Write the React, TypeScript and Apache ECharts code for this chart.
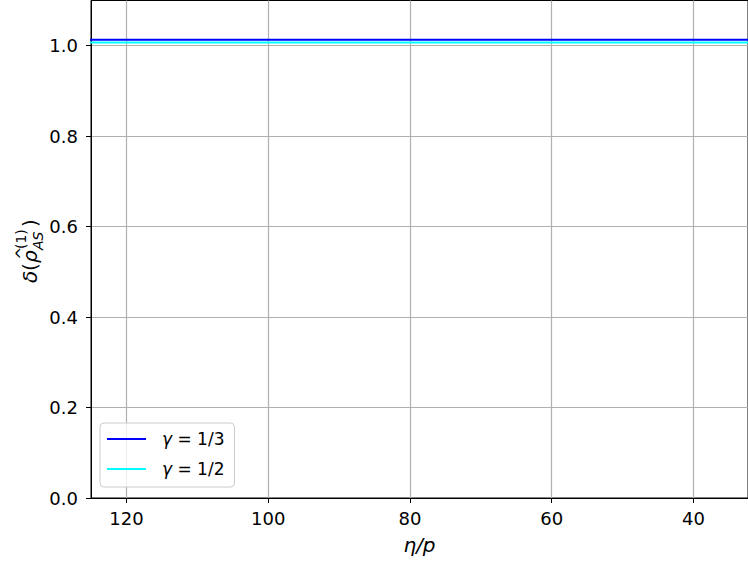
import React, { useEffect, useRef } from "react";
import * as echarts from "echarts";

const etaOverP: number[] = [30, 40, 50, 60, 70, 80, 90, 100, 110, 120, 130];
const deltaGammaThird: number[] = [1.013, 1.013, 1.013, 1.013, 1.013, 1.013, 1.013, 1.013, 1.013, 1.013, 1.013];
const deltaGammaHalf: number[] = [1.007, 1.007, 1.007, 1.007, 1.007, 1.007, 1.007, 1.007, 1.007, 1.007, 1.007];
const seriesNames: string[] = ["γ = 1/3", "γ = 1/2"];
const xTicks: number[] = [120, 100, 80, 60, 40];
const yTicks: number[] = [0, 0.2, 0.4, 0.6, 0.8, 1.0];

const FONT = "DejaVu Sans";

export default function App() {
  const ref = useRef<HTMLDivElement>(null);
  useEffect(() => {
    if (!ref.current) return;
    const chart = echarts.init(ref.current, null, { renderer: "svg" });
    const pairs = (ys: number[]) => etaOverP.map((x, i) => [x, ys[i]]);
    chart.setOption({
      animation: false,
      backgroundColor: "#ffffff",
      grid: {
        left: 91,
        top: 0.5,
        right: -2,
        bottom: 66,
        show: true,
        borderColor: "#000000",
        borderWidth: 1,
      },
      xAxis: {
        type: "value",
        inverse: true,
        min: 32.3,
        max: 125,
        name: "η/p",
        nameLocation: "middle",
        nameGap: 37,
        nameTextStyle: { fontFamily: FONT, fontSize: 20, fontStyle: "italic", color: "#000" },
        axisLine: { show: true, lineStyle: { color: "#000", width: 1 } },
        axisTick: { show: true, customValues: xTicks, length: 5, lineStyle: { color: "#000" } },
        axisLabel: {
          customValues: xTicks,
          fontFamily: FONT,
          fontSize: 18,
          color: "#000",
          margin: 11,
        },
        splitLine: { show: true, lineStyle: { color: "#b0b0b0", width: 1.2 } },
      },
      yAxis: {
        type: "value",
        min: 0,
        max: 1.1,
        axisLine: { show: true, lineStyle: { color: "#000", width: 1 } },
        axisTick: { show: true, customValues: yTicks, length: 5, lineStyle: { color: "#000" } },
        axisLabel: {
          customValues: yTicks,
          fontFamily: FONT,
          fontSize: 18,
          color: "#000",
          margin: 13,
          formatter: (v: number) => v.toFixed(1),
        },
        splitLine: { show: true, lineStyle: { color: "#b0b0b0", width: 1.2 } },
      },
      legend: {
        orient: "vertical",
        left: 100,
        top: 423,
        padding: [6, 10, 8, 7],
        itemGap: 10,
        itemWidth: 39,
        itemHeight: 2,
        icon: "rect",
        backgroundColor: "rgba(255,255,255,0.8)",
        borderColor: "#cccccc",
        borderWidth: 1,
        borderRadius: 4,
        data: seriesNames,
        formatter: (name: string) => "{i|γ}" + name.slice(1),
        textStyle: {
          fontFamily: FONT,
          fontSize: 17,
          color: "#000",
          lineHeight: 20,
          padding: [0, 0, 0, 11],
          rich: {
            i: { fontFamily: FONT, fontSize: 17, fontStyle: "italic", color: "#000" },
          },
        },
      },
      series: [
        {
          name: seriesNames[0],
          type: "line",
          data: pairs(deltaGammaThird),
          showSymbol: false,
          symbol: "none",
          lineStyle: { color: "#0000ff", width: 2 },
          itemStyle: { color: "#0000ff" },
          clip: true,
        },
        {
          name: seriesNames[1],
          type: "line",
          data: pairs(deltaGammaHalf),
          showSymbol: false,
          symbol: "none",
          lineStyle: { color: "#00ffff", width: 2 },
          itemStyle: { color: "#00ffff" },
          clip: true,
        },
      ],
      graphic: [
        {
          type: "group",
          x: 40,
          y: 283,
          rotation: Math.PI / 2,
          children: [
            { type: "text", x: 0, y: 0, style: { text: "δ", font: `italic 20px "${FONT}"`, fill: "#000", verticalAlign: "bottom" } },
            { type: "text", x: 12, y: 0, style: { text: "(", font: `20px "${FONT}"`, fill: "#000", verticalAlign: "bottom" } },
            { type: "text", x: 20, y: 0, style: { text: "ρ", font: `italic 20px "${FONT}"`, fill: "#000", verticalAlign: "bottom" } },
            { type: "text", x: 23, y: -11, style: { text: "^", font: `16px "${FONT}"`, fill: "#000", verticalAlign: "bottom" } },
            { type: "text", x: 33, y: 5, style: { text: "AS", font: `italic 14px "${FONT}"`, fill: "#000", verticalAlign: "bottom" } },
            { type: "text", x: 34, y: -12, style: { text: "(1)", font: `14px "${FONT}"`, fill: "#000", verticalAlign: "bottom" } },
            { type: "text", x: 56, y: 0, style: { text: ")", font: `20px "${FONT}"`, fill: "#000", verticalAlign: "bottom" } },
          ],
        },
      ],
    });
    return () => chart.dispose();
  }, []);
  return (
    <div
      ref={ref}
      style={{ position: "fixed", left: 0, top: 0, width: 748, height: 564, background: "#fff" }}
    />
  );
}
